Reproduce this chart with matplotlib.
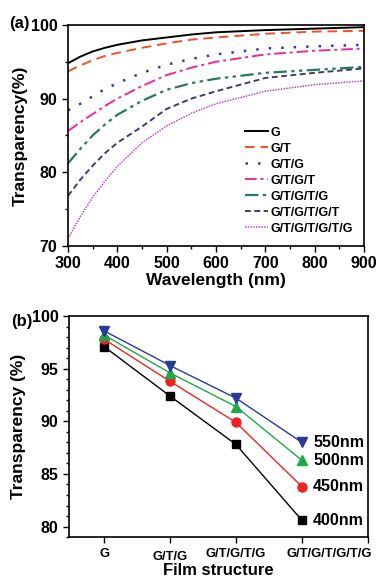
import matplotlib
matplotlib.use("Agg")
import matplotlib.pyplot as plt
import matplotlib.transforms as mtransforms
from matplotlib.ticker import MultipleLocator

plt.rcParams["font.family"] = ["Liberation Sans", "DejaVu Sans"]
plt.rcParams["font.weight"] = "bold"

# Panel (a): transmission spectra
wavelength = [300, 325, 350, 375, 400, 450, 500, 550, 600, 700, 800, 900]
film_labels = ["G", "G/T", "G/T/G", "G/T/G/T", "G/T/G/T/G", "G/T/G/T/G/T", "G/T/G/T/G/T/G"]
t_g = [94.8, 95.7, 96.4, 96.9, 97.3, 97.9, 98.3, 98.7, 99.0, 99.3, 99.5, 99.7]
t_gt = [93.7, 94.5, 95.2, 95.8, 96.2, 96.9, 97.5, 98.0, 98.3, 98.8, 99.1, 99.2]
t_gtg = [88.4, 89.3, 90.3, 91.3, 92.1, 93.5, 94.6, 95.4, 96.0, 96.8, 97.1, 97.3]
t_gtgt = [85.6, 86.8, 87.9, 89.0, 90.0, 91.7, 93.2, 94.2, 95.0, 96.0, 96.5, 96.8]
t_gtgtg = [81.2, 83.2, 85.0, 86.5, 87.8, 89.7, 91.2, 92.1, 92.7, 93.5, 93.9, 94.3]
t_gtgtgt = [76.8, 79.0, 80.9, 82.6, 84.0, 86.2, 88.6, 90.0, 91.0, 92.8, 93.5, 94.1]
t_gtgtgtg = [71.0, 74.0, 76.6, 78.8, 80.8, 84.0, 86.3, 88.0, 89.3, 91.0, 91.9, 92.4]
spectra = [t_g, t_gt, t_gtg, t_gtgt, t_gtgtg, t_gtgtgt, t_gtgtgtg]

# Panel (b): transparency vs film structure
structures = ["G", "G/T/G", "G/T/G/T/G", "G/T/G/T/G/T/G"]
t_400 = [97.1, 92.4, 87.8, 80.6]
t_450 = [97.8, 93.8, 89.9, 83.8]
t_500 = [98.2, 94.6, 91.4, 86.3]
t_550 = [98.6, 95.3, 92.2, 88.0]
wl_labels = ["400nm", "450nm", "500nm", "550nm"]

colors_a = ["black", "#f0502a", "#3a3ab0", "#ee2a9a", "#2a7a5a", "#3c3c78", "#b84ac8"]
styles_a = ["-", (0, (5, 3)), (0, (1, 4)), (0, (6, 2, 1.5, 2)),
            (0, (6, 2, 1.5, 2, 1.5, 2)), (0, (3, 1.8)), (0, (1, 0.8))]
widths_a = [1.4, 1.4, 1.8, 1.4, 1.6, 1.4, 1.1]


def style_axes(ax, size=11.5):
    for sp in ax.spines.values():
        sp.set_linewidth(1.2)
    ax.tick_params(which="both", direction="out", top=False, right=False,
                   labelsize=size, width=1)
    ax.tick_params(which="major", length=4)
    ax.tick_params(which="minor", length=2.5)
    for lab in ax.get_xticklabels() + ax.get_yticklabels():
        lab.set_fontweight("bold")


fig = plt.figure(figsize=(3.8, 5.8), dpi=100)

ax1 = fig.add_axes([0.179, 0.576, 0.779, 0.381])
for y, lab, c, ls, lw in zip(spectra, film_labels, colors_a, styles_a, widths_a):
    ax1.plot(wavelength, y, color=c, linestyle=ls, linewidth=lw, label=lab)
ax1.set_xlim(300, 900)
ax1.set_ylim(70, 100)
ax1.xaxis.set_major_locator(MultipleLocator(100))
ax1.xaxis.set_minor_locator(MultipleLocator(50))
ax1.yaxis.set_major_locator(MultipleLocator(10))
ax1.yaxis.set_minor_locator(MultipleLocator(5))
ax1.set_xlabel("Wavelength (nm)", fontsize=12.5, fontweight="bold", labelpad=1)
ax1.set_ylabel("Transparency(%)", fontsize=12.5, fontweight="bold", labelpad=2)
style_axes(ax1)
ax1.legend(loc="lower right", bbox_to_anchor=(1.0, 0.0), frameon=False,
           prop={"size": 9, "weight": "bold"}, handlelength=1.8,
           handletextpad=0.2, labelspacing=0.32, borderaxespad=0.5)
fig.text(0.025, 0.96, "(a)", fontsize=12, fontweight="bold", va="center")

ax2 = fig.add_axes([0.182, 0.074, 0.786, 0.381])
x_pos = list(range(len(structures)))
series_b = [(t_400, "black", "s", 6), (t_450, "#ee2222", "o", 6.5),
            (t_500, "#1fa84a", "^", 7), (t_550, "#2a3a9a", "v", 7)]
for (vals, c, m, ms), lab in zip(series_b, wl_labels):
    ax2.plot(x_pos, vals, color=c, marker=m, markersize=ms, linewidth=1)
    ax2.annotate(lab, (x_pos[-1], vals[-1]), xytext=(8, 0),
                 textcoords="offset points", ha="left", va="center",
                 fontsize=11.5, fontweight="bold")
ax2.set_xlim(-0.53, 4.0)
ax2.set_ylim(79, 100)
ax2.set_xticks(x_pos + [4])
ax2.set_xticklabels(structures + [""])
ax2.yaxis.set_major_locator(MultipleLocator(5))
ax2.yaxis.set_minor_locator(MultipleLocator(1))
ax2.set_xlabel("Film structure", fontsize=12, fontweight="bold", labelpad=0)
ax2.set_ylabel("Transparency (%)", fontsize=12.5, fontweight="bold", labelpad=4)
style_axes(ax2)
ax2.tick_params(axis="x", labelsize=9.3, pad=4)
# the reference nudges the long labels so they do not collide
xlabs = ax2.get_xticklabels()
xlabs[1].set_transform(xlabs[1].get_transform() +
                       mtransforms.ScaledTranslation(0, -0.03, fig.dpi_scale_trans))
xlabs[3].set_transform(xlabs[3].get_transform() +
                       mtransforms.ScaledTranslation(0.27, 0, fig.dpi_scale_trans))
fig.text(0.03, 0.445, "(b)", fontsize=12, fontweight="bold", va="center")

fig.savefig("out.png", dpi=100)
